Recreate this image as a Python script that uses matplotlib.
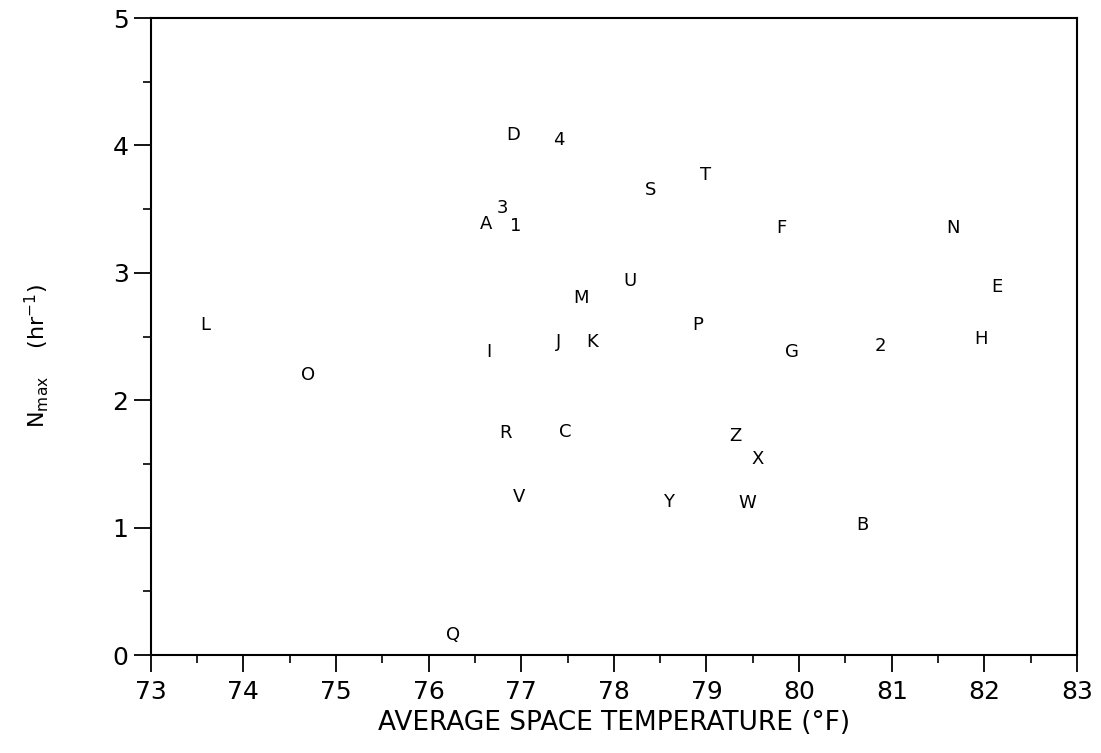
import matplotlib
matplotlib.use("Agg")
import matplotlib.pyplot as plt
from matplotlib.ticker import MultipleLocator

# points labelled by letter/number id
labels = ["L", "O", "Q", "D", "4", "A", "3", "1", "S", "T", "F", "N", "E",
          "U", "M", "P", "I", "J", "K", "G", "2", "H", "R", "C", "Z", "X",
          "V", "Y", "W", "B"]
temp = [73.59, 74.70, 76.26, 76.91, 77.41, 76.62, 76.80, 76.94, 78.40, 78.99,
        79.81, 81.66, 82.14, 78.17, 77.65, 78.91, 76.65, 77.40, 77.77, 79.92,
        80.88, 81.96, 76.83, 77.47, 79.31, 79.55, 76.98, 78.59, 79.44, 80.68]
nmax = [2.59, 2.20, 0.16, 4.08, 4.04, 3.38, 3.51, 3.37, 3.65, 3.77,
        3.35, 3.35, 2.89, 2.94, 2.80, 2.59, 2.38, 2.46, 2.46, 2.38,
        2.43, 2.48, 1.74, 1.75, 1.72, 1.54, 1.24, 1.20, 1.19, 1.02]

fig = plt.figure(figsize=(11.01, 7.53), dpi=100)
ax = fig.add_axes([0.1369, 0.130, 0.8413, 0.846])

for lab, xv, yv in zip(labels, temp, nmax):
    ax.text(xv, yv, lab, ha="center", va="center", fontsize=13, color="black")

ax.set_xlim(73, 83)
ax.set_ylim(0, 5)
ax.xaxis.set_major_locator(MultipleLocator(1))
ax.xaxis.set_minor_locator(MultipleLocator(0.5))
ax.yaxis.set_major_locator(MultipleLocator(1))
ax.yaxis.set_minor_locator(MultipleLocator(0.5))
ax.tick_params(which="major", direction="out", length=12, width=1.3,
               labelsize=18, pad=6)
ax.tick_params(which="minor", direction="out", length=6, width=1.2)
ax.tick_params(axis="y", pad=4)
for s in ax.spines.values():
    s.set_linewidth(1.5)

ax.set_xlabel("AVERAGE SPACE TEMPERATURE (°F)", fontsize=19, labelpad=4)
ax.set_ylabel(r"N$_{\rm max}$    (hr$^{-1}$)", fontsize=16)
ax.yaxis.set_label_coords(-0.108, 0.47)

fig.savefig("out.png", dpi=100)
